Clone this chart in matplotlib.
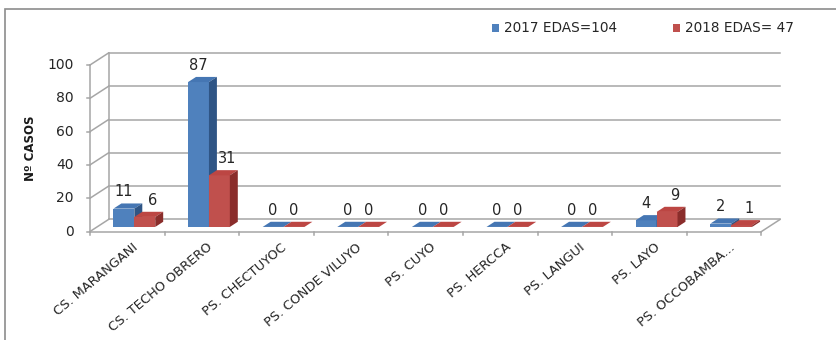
import matplotlib
matplotlib.use("Agg")
import matplotlib.pyplot as plt
from matplotlib.patches import Polygon, Rectangle
import numpy as np

# Data
categories = ["CS. MARANGANI", "CS. TECHO OBRERO", "PS. CHECTUYOC", "PS. CONDE VILUYO",
              "PS. CUYO", "PS. HERCCA", "PS. LANGUI", "PS. LAYO", "PS. OCCOBAMBA..."]
cases_2017 = [11, 87, 0, 0, 0, 0, 0, 4, 2]
cases_2018 = [6, 31, 0, 0, 0, 0, 0, 9, 1]
series_labels = ["2017 EDAS=104", "2018 EDAS= 47"]
y_ticks = [0, 20, 40, 60, 80, 100]

# Colours (front, top, side)
BLUE = ("#4F81BD", "#4576B3", "#2F5585")
RED = ("#C0504D", "#BC4643", "#8A2D2B")
GRID = "#A6A6A6"
TXT = "#262626"

W, H = 837, 340
fig = plt.figure(figsize=(W / 100, H / 100), dpi=100)
fig.patch.set_facecolor("white")

# outer chart frame (open to the right and bottom)
fig.add_artist(Rectangle((5 / W, -0.1), 1.2, (H - 9) / H + 0.1, transform=fig.transFigure,
                         fill=False, edgecolor="#8C8C8C", linewidth=1.2))

ax = fig.add_axes([90 / W, (H - 231.5) / H, 671.5 / W, 166.5 / H])
n = len(categories)
ax.set_xlim(-0.5, n - 0.5)
ax.set_ylim(0, 100)
for s in ax.spines.values():
    s.set_visible(False)
ax.set_xticks([])
ax.set_yticks([])
ax.patch.set_alpha(0)

# depth of the 3-D box, in data units
DX, DY = 0.248, 7.21
x0, x1 = -0.5, n - 0.5
lw = 1.1

# back wall gridlines, side wall diagonals and floor
for v in y_ticks:
    ax.plot([x0 + DX, x1 + DX], [v + DY, v + DY], color=GRID, lw=lw, clip_on=False, zorder=1)
    ax.plot([x0, x0 + DX], [v, v + DY], color=GRID, lw=lw, clip_on=False, zorder=1)
    ax.plot([x0 - 0.04, x0], [v, v], color=GRID, lw=lw, clip_on=False, zorder=1)
ax.plot([x0 + DX, x0 + DX], [DY, 100 + DY], color=GRID, lw=lw, clip_on=False, zorder=1)
ax.plot([x0, x0], [0, 100], color=GRID, lw=lw, clip_on=False, zorder=1)
ax.plot([x0, x1], [0, 0], color=GRID, lw=lw, clip_on=False, zorder=5)
ax.plot([x1, x1 + DX], [0, DY], color=GRID, lw=lw, clip_on=False, zorder=5)
for i in range(n + 1):
    ax.plot([x0 + i, x0 + i], [0, -2.2], color=GRID, lw=lw, clip_on=False, zorder=5)

# y tick labels
for v in y_ticks:
    ax.text(x0 - 0.22, v, str(v), ha="right", va="center", fontsize=10, color=TXT)

ax.text(-0.089, 0.5, "Nº CASOS", transform=ax.transAxes, rotation=90, ha="center",
        va="center", fontsize=8.5, fontweight="bold", color="#1A1A1A")

# 3-D bars
bw = 0.28
f_shift = 0.38   # position of bar front inside the box depth
f_depth = 0.43   # bar depth as fraction of box depth
sx, sy = f_shift * DX, f_shift * DY
ddx, ddy = f_depth * DX, f_depth * DY


def bar3d(xl, val, cols, z):
    front, top, side = cols
    base = sy
    yt = base + val
    ax.add_patch(Rectangle((xl, base), bw, val, facecolor=front, edgecolor="none",
                           zorder=z, clip_on=False))
    ax.add_patch(Polygon([(xl, yt), (xl + bw, yt), (xl + bw + ddx, yt + ddy), (xl + ddx, yt + ddy)],
                         closed=True, facecolor=top, edgecolor="none", zorder=z, clip_on=False))
    ax.add_patch(Polygon([(xl + bw, base), (xl + bw, yt), (xl + bw + ddx, yt + ddy),
                          (xl + bw + ddx, base + ddy)],
                         closed=True, facecolor=side, edgecolor="none", zorder=z, clip_on=False))


xs = np.arange(n)
for i in range(n):
    xb = xs[i] - bw + sx
    xr = xs[i] + sx
    bar3d(xb, cases_2017[i], BLUE, 10 + 2 * i)
    bar3d(xr, cases_2018[i], RED, 11 + 2 * i)
    # value labels above the top faces
    v1, v2 = cases_2017[i], cases_2018[i]
    ax.annotate(str(v1), (xb + bw / 2, sy + v1 + ddy), xytext=(0, 3), textcoords="offset points",
                ha="center", va="bottom", fontsize=10.5, color=TXT, zorder=40)
    off = 0.1 if v2 > 0 else 0.0
    ax.annotate(str(v2), (xr + bw / 2 + off, sy + v2 + ddy), xytext=(0, 3),
                textcoords="offset points", ha="center", va="bottom", fontsize=10.5,
                color=TXT, zorder=40)

# category labels
for i, c in enumerate(categories):
    ax.text(xs[i] + 0.06, -5.5, c, rotation=40, rotation_mode="anchor", ha="right", va="top",
            fontsize=9.4, color=TXT)

# legend
for lx, lab, col in [(492, series_labels[0], BLUE[0]), (673, series_labels[1], RED[0])]:
    fig.add_artist(Rectangle((lx / W, (H - 31.5) / H), 7.5 / W, 7.5 / H, transform=fig.transFigure,
                             facecolor=col, edgecolor="none"))
    fig.text((lx + 12) / W, (H - 27.5) / H, lab, ha="left", va="center", fontsize=9.8,
             color=TXT)

fig.savefig("out.png", dpi=100, facecolor="white")
